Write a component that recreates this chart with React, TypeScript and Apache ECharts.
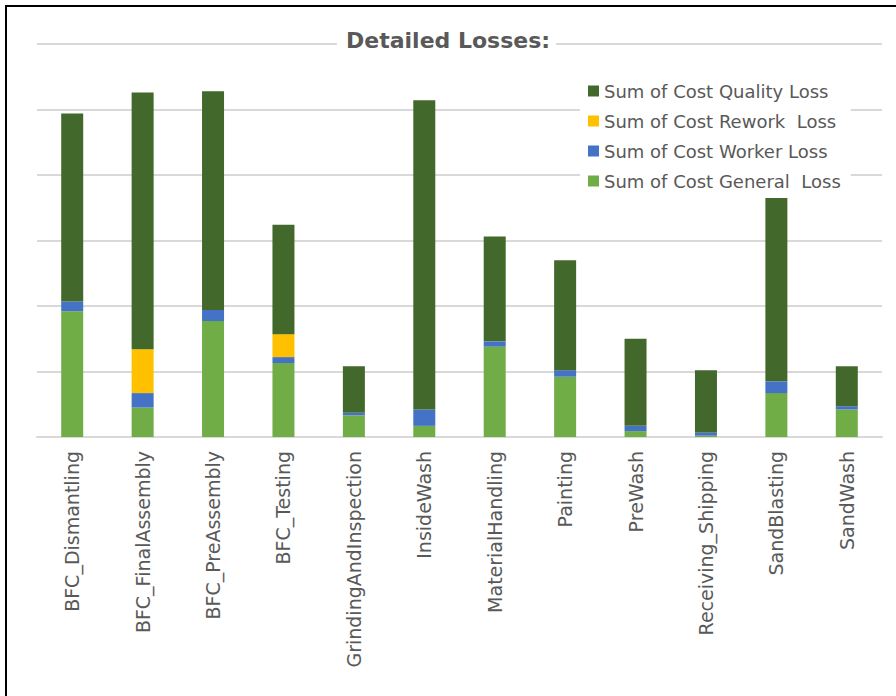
import React, { useEffect, useRef } from "react";
import * as echarts from "echarts";

const categories = [
  "BFC_Dismantling",
  "BFC_FinalAssembly",
  "BFC_PreAssembly",
  "BFC_Testing",
  "GrindingAndInspection",
  "InsideWash",
  "MaterialHandling",
  "Painting",
  "PreWash",
  "Receiving_Shipping",
  "SandBlasting",
  "SandWash",
];

const generalLoss = [9600, 2250, 8850, 5650, 1650, 850, 6900, 4600, 450, 100, 3350, 2100];
const workerLoss = [750, 1100, 850, 450, 200, 1250, 400, 500, 400, 250, 900, 250];
const reworkLoss = [0, 3350, 0, 1750, 0, 0, 0, 0, 0, 0, 0, 0];
const qualityLoss = [14350, 19600, 16700, 8350, 3550, 23600, 8000, 8400, 6650, 4750, 14000, 3050];

const seriesNames = [
  "Sum of Cost General  Loss",
  "Sum of Cost Worker Loss",
  "Sum of Cost Rework  Loss",
  "Sum of Cost Quality Loss",
];
const legendOrder = [
  "Sum of Cost Quality Loss",
  "Sum of Cost Rework  Loss",
  "Sum of Cost Worker Loss",
  "Sum of Cost General  Loss",
];
const colors = ["#70AD47", "#4472C4", "#FFC000", "#43682B"];

export default function App() {
  const ref = useRef<HTMLDivElement>(null);
  useEffect(() => {
    document.body.style.margin = "0";
    if (!ref.current) return;
    const chart = echarts.init(ref.current, null, { renderer: "svg" });
    const dataSets = [generalLoss, workerLoss, reworkLoss, qualityLoss];
    chart.setOption({
      animation: false,
      backgroundColor: "#ffffff",
      title: {
        text: "Detailed Losses:",
        left: 337,
        top: 27,
        backgroundColor: "#ffffff",
        padding: [0, 6, 0, 9],
        textStyle: {
          fontFamily: "DejaVu Sans",
          fontWeight: "bold",
          fontSize: 22,
          color: "#595959",
          lineHeight: 26,
        },
      },
      legend: {
        data: legendOrder,
        orient: "vertical",
        left: 580,
        top: 76,
        backgroundColor: "#ffffff",
        padding: [5, 10, 5, 8],
        itemWidth: 11,
        itemHeight: 11,
        itemGap: 10,
        icon: "rect",
        textStyle: {
          fontFamily: "DejaVu Sans",
          fontSize: 18,
          color: "#595959",
          lineHeight: 20,
        },
      },
      grid: { left: 37, right: 14, top: 44, bottom: 259, containLabel: false },
      xAxis: {
        type: "category",
        data: categories,
        axisTick: { show: false },
        axisLine: { show: true, lineStyle: { color: "#D9D9D9", width: 2 } },
        axisLabel: {
          rotate: 90,
          interval: 0,
          margin: 14,
          fontFamily: "DejaVu Sans",
          fontSize: 19,
          color: "#595959",
        },
      },
      yAxis: {
        type: "value",
        min: 0,
        max: 30000,
        interval: 5000,
        axisLabel: { show: false },
        axisLine: { show: false },
        axisTick: { show: false },
        splitLine: { lineStyle: { color: "#D9D9D9", width: 2 } },
      },
      series: seriesNames.map((name, i) => ({
        name,
        type: "bar",
        stack: "total",
        barWidth: 22,
        data: dataSets[i],
        itemStyle: { color: colors[i] },
        z: 3,
      })),
      graphic: [
        {
          type: "line",
          shape: { x1: 5, y1: 6, x2: 896, y2: 6 },
          style: { stroke: "#000000", lineWidth: 2 },
          z: 100,
        },
        {
          type: "line",
          shape: { x1: 6, y1: 5, x2: 6, y2: 696 },
          style: { stroke: "#000000", lineWidth: 2 },
          z: 100,
        },
      ],
    });
    return () => chart.dispose();
  }, []);
  return (
    <div
      ref={ref}
      style={{ position: "absolute", left: 0, top: 0, width: 896, height: 696 }}
    />
  );
}
